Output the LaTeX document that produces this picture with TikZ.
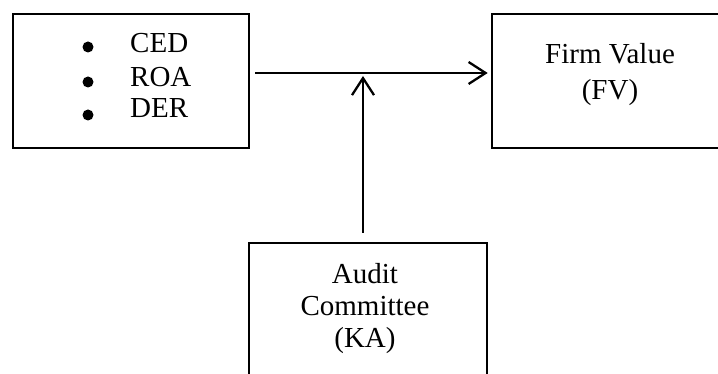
\documentclass[tikz,border=0pt]{standalone}
\usepackage{fontspec}
\setmainfont{Liberation Serif}
\usetikzlibrary{arrows.meta}
\begin{document}
\begin{tikzpicture}[x=1pt,y=1pt,
  box/.style={draw, line width=2.6pt, inner sep=0pt},
  lbl/.style={font=\fontsize{29}{32}\selectfont, inner sep=0pt},
  dot/.style={circle, fill, inner sep=0pt, minimum size=11pt},
  arr/.style={line width=2.3pt, -{Straight Barb[length=17pt,width=22pt,line width=2.3pt]}}]
\useasboundingbox (0,0) rectangle (718,374);
\clip (0,0) rectangle (718,374);
\node[box, minimum width=236pt, minimum height=134pt] (L) at (131,293) {};
\node[box, minimum width=236pt, minimum height=134pt] (R) at (610,293) {};
\node[box, minimum width=238pt, minimum height=160pt] (B) at (368,51) {};
\node[dot] (d1) at (88,327) {};
\node[dot] (d2) at (88,292) {};
\node[dot] (d3) at (88,259) {};
\node[lbl, anchor=base west] (t1) at (130,321) {CED};
\node[lbl, anchor=base west] (t2) at (130,287) {ROA};
\node[lbl, anchor=base west] (t3) at (130,256) {DER};
\node[lbl, align=center] (fv) at (610,299) {Firm Value\\[4pt](FV)};
\node[lbl, align=center] (ka) at (365,65) {Audit\\Committee\\(KA)};
\coordinate (hs) at (255,301);
\coordinate (j) at (363,301);
\draw[arr, shorten >=3pt] (hs) -- (hs -| R.west);
\draw[arr, shorten <=9pt, shorten >=3pt] (j |- B.north) -- (j);
\end{tikzpicture}
\end{document}
